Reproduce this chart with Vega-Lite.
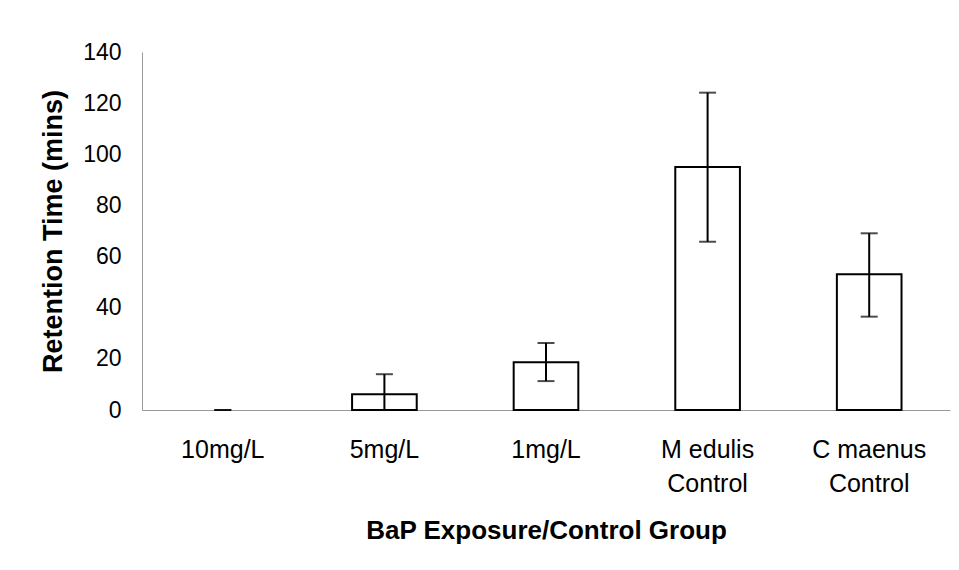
{
  "$schema": "https://vega.github.io/schema/vega-lite/v6.json",
  "autosize": {"type": "none"},
  "width": 808,
  "height": 358,
  "padding": {"left": 142, "top": 52, "right": 9, "bottom": 160},
  "background": "white",
  "config": {
    "view": {"stroke": null},
    "font": "Liberation Sans"
  },
  "data": {
    "values": [
      {"group": "10mg/L", "mean": 0, "lo": 0, "hi": 0},
      {"group": "5mg/L", "mean": 6.2, "lo": 0, "hi": 14},
      {"group": "1mg/L", "mean": 18.7, "lo": 11.3, "hi": 26.2},
      {"group": "M edulis Control", "mean": 95, "lo": 65.8, "hi": 124.1},
      {"group": "C maenus Control", "mean": 53.1, "lo": 36.5, "hi": 69.1}
    ]
  },
  "encoding": {
    "x": {
      "field": "group",
      "type": "nominal",
      "sort": null,
      "scale": {
        "domain": ["10mg/L", "5mg/L", "1mg/L", "M edulis Control", "C maenus Control"],
        "paddingInner": 0.6,
        "paddingOuter": 0.3
      },
      "axis": {
        "title": "BaP Exposure/Control Group",
        "titleFont": "Liberation Sans",
        "titleFontSize": 26,
        "titleFontWeight": "bold",
        "titleColor": "black",
        "titlePadding": 21,
        "labelAngle": 0,
        "labelFontSize": 25,
        "labelColor": "black",
        "labelPadding": 27,
        "labelLineHeight": 34,
        "labelExpr": "indexof(datum.label, ' Control') > 0 ? [replace(datum.label, ' Control', ''), 'Control'] : datum.label",
        "ticks": false,
        "domainColor": "#999999",
        "domainWidth": 1
      }
    }
  },
  "layer": [
    {
      "transform": [{"filter": "datum.mean > 0"}],
      "mark": {"type": "bar", "fill": "white", "stroke": "black", "strokeWidth": 2},
      "encoding": {
        "y": {
          "field": "mean",
          "type": "quantitative",
          "scale": {"domain": [0, 140], "nice": false},
          "axis": {
            "title": "Retention Time (mins)",
            "titleFontSize": 27,
            "titleFontWeight": "bold",
            "titleColor": "black",
            "titlePadding": 15,
            "values": [0, 20, 40, 60, 80, 100, 120, 140],
            "labelFontSize": 23,
            "labelColor": "black",
            "labelPadding": 21,
            "ticks": false,
            "grid": false,
            "domainColor": "#999999",
            "domainWidth": 1
          }
        }
      }
    },
    {
      "mark": {"type": "rule", "color": "black", "strokeWidth": 2},
      "encoding": {
        "y": {"field": "lo", "type": "quantitative"},
        "y2": {"field": "hi"}
      }
    },
    {
      "mark": {"type": "tick", "color": "black", "thickness": 2, "size": 17, "orient": "horizontal"},
      "encoding": {"y": {"field": "hi", "type": "quantitative"}}
    },
    {
      "mark": {"type": "tick", "color": "black", "thickness": 2, "size": 17, "orient": "horizontal"},
      "encoding": {"y": {"field": "lo", "type": "quantitative"}}
    }
  ]
}
